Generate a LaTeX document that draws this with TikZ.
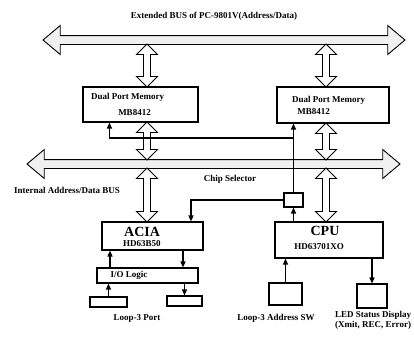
\documentclass[tikz,border=0pt]{standalone}
\usepackage{fontspec}
\setmainfont{Liberation Serif}
\usetikzlibrary{positioning,shapes.arrows,arrows.meta,calc}

\begin{document}
\begin{tikzpicture}[x=1pt,y=-1pt,
  txt/.style={font=\fontsize{9}{10}\selectfont\bfseries, inner sep=0pt},
  big/.style={font=\fontsize{14}{15}\selectfont\bfseries, inner sep=0pt},
  blk/.style={rectangle, draw=black, line width=1.1pt, inner sep=0pt},
  bus/.style={double arrow, draw=black, line width=0.9pt, fill=gray!12, double arrow head extend=10pt, double arrow tip angle=80, minimum width=28pt, inner sep=4pt},
  updown/.style={double arrow, draw=black, line width=0.9pt, fill=white, double arrow head extend=7pt, minimum width=21pt, inner sep=3pt, rotate=90},
  sig/.style={line width=1.3pt, -{Triangle[length=6pt,width=5pt]}}]
\useasboundingbox (0,0) rectangle (414,343);

% buses
\node (title) [txt] at (214,16) {Extended BUS of PC-9801V(Address/Data)};
\node (ebus) [bus, minimum height=362pt] at (224,40) {};
\node (ibus) [bus, minimum height=373pt] at (213.5,164) {};
\node (ibuslbl) [txt] at (67,190) {Internal Address/Data BUS};

% blocks
\node (dpmL) [blk, minimum width=115pt, minimum height=35pt] at (140.5,104.5) {};
\node (dpmR) [blk, minimum width=112pt, minimum height=36pt] at (333,105) {};
\node (acia) [blk, minimum width=101pt, minimum height=28pt] at (152.5,236) {};
\node (cpu) [blk, minimum width=108pt, minimum height=36pt] at (329,240) {};
\node (cs) [blk, minimum width=19pt, minimum height=14pt] at (293.5,200) {};
\node (io) [blk, minimum width=101pt, minimum height=15pt] at (147.5,275.5) {};
\node (portL) [blk, minimum width=37pt, minimum height=10pt] at (108.5,302) {};
\node (portR) [blk, minimum width=35pt, minimum height=10pt] at (184.5,301) {};
\node (sw) [blk, minimum width=33pt, minimum height=22pt] at (285.5,294) {};
\node (led) [blk, minimum width=30pt, minimum height=24pt] at (372,296) {};

% texts
\node (dpmLa) [txt, anchor=west] at (91,97) {Dual Port Memory};
\node (dpmLb) [txt] at (134.5,113) {MB8412};
\node (dpmRa) [txt] at (328.5,100) {Dual Port Memory};
\node (dpmRb) [txt] at (313.5,112) {MB8412};
\node (aciaa) [big, anchor=west] at (124,232) {ACIA};
\node (aciab) [txt, anchor=west] at (123,244) {HD63B50};
\node (cpua) [big] at (325,231) {CPU};
\node (cpub) [txt] at (319,247) {HD63701XO};
\node (ioa) [txt] at (129,275.5) {I/O Logic};
\node (cslbl) [txt] at (230,179) {Chip Selector};
\node (portlbl) [txt] at (137,318) {Loop-3 Port};
\node (swlbl) [txt] at (276,318) {Loop-3 Address SW};
\node (ledlbl) [txt, anchor=west, align=left] at (335,320) {LED Status Display\\(Xmit, REC, Error)};

% data paths
\node (upL) [updown, minimum height=43pt] at (147,65.5) {};
\node (upR) [updown, minimum height=43pt] at (326,65.5) {};
\node (midL) [updown, minimum height=38pt] at (147,141) {};
\node (midR) [updown, minimum height=37pt] at (326,141.5) {};
\node (lowL) [updown, minimum height=54pt] at (147,195) {};
\node (lowR) [updown, minimum height=54pt] at (326,195) {};

% control lines
\coordinate (split) at (cs.north |- 0,138);
\draw[sig] (cs.north) -- (cs.north |- dpmR.south);
\draw[sig] (split) -| ($(dpmL.south west)+(27,0)$);
\draw[sig] (cs.west) -| (191,0 |- acia.north);
\draw[sig] (cs.south |- cpu.north) -- (cs.south);
\draw[sig] (io.north -| 110,0) -- (acia.south -| 110,0);
\draw[sig] (acia.south -| 183,0) -- (io.north -| 183,0);
\draw[sig] (portL.north) -- (io.south -| portL.north);
\draw[sig] (io.south -| portR.north) -- (portR.north);
\draw[sig] (sw.north) -- (cpu.south -| sw.north);
\draw[sig] (cpu.south -| led.north) -- (led.north);
\end{tikzpicture}
\end{document}
